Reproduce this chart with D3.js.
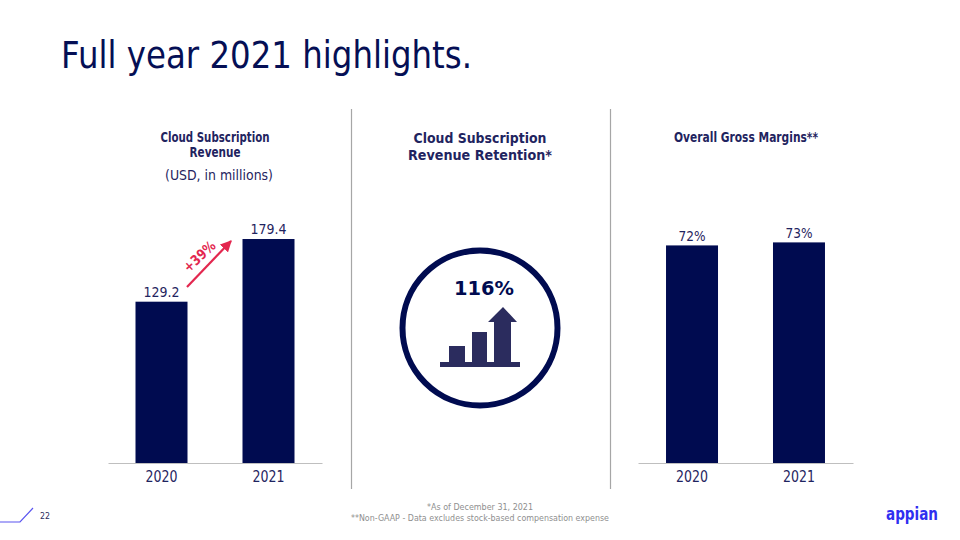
<!DOCTYPE html>
<html><head><meta charset="utf-8">
<script src="https://cdn.jsdelivr.net/npm/d3@7"></script>
<style>html,body{margin:0;background:#fff}svg{display:block}text{font-family:"DejaVu Sans",sans-serif}</style>
</head><body><svg id="c" width="960" height="540"></svg>
<script>
const years = ["2020","2021"];
const revenue = [129.2,179.4];
const revenueLabels = ["129.2","179.4"];
const margins = [72,73];
const marginLabels = ["72%","73%"];
const navy = "#000b50", ink="#1f2460";
const svg = d3.select("#c");
function t(x,y,s,size,opt={}){
  const e = svg.append("text").attr("x",x).attr("y",y).text(s).attr("font-size",size)
    .attr("fill",opt.fill||ink).attr("text-anchor",opt.anchor||"middle").attr("font-weight",opt.weight||"normal");
  if(opt.len) e.attr("textLength",opt.len).attr("lengthAdjust","spacingAndGlyphs");
  return e;
}
t(61,68,"Full year 2021 highlights.",37,{anchor:"start",fill:"#050f55",len:411});
// dividers
[351.5,610.5].forEach(x=>svg.append("line").attr("x1",x).attr("x2",x).attr("y1",109).attr("y2",489).attr("stroke","#a6a6a6").attr("stroke-width",1.2));
// panels
function panel(x0,x1,vals,labels,k,labelDy,outer){
  const x = d3.scaleBand().domain(years).range([x0,x1]).paddingInner(0.514).paddingOuter(outer);
  const h = d3.max(vals)*k;
  const y = d3.scaleLinear().domain([0,d3.max(vals)]).range([463,463-h]);
  const g = svg.append("g");
  g.selectAll("rect").data(vals).join("rect").attr("x",(d,i)=>x(years[i])).attr("width",x.bandwidth())
    .attr("y",d=>y(d)).attr("height",d=>463-y(d)).attr("fill",navy);
  const axis = d3.axisBottom(x).tickSize(0).tickPadding(8);
  const a = svg.append("g").attr("transform","translate(0,463)").call(axis);
  a.select(".domain").attr("stroke","#bfbfbf").attr("stroke-width",1.2);
  a.selectAll("text").attr("font-size",15).attr("fill",ink).style("font-family",'"DejaVu Sans",sans-serif')
    .attr("textLength",32).attr("lengthAdjust","spacingAndGlyphs");
  g.selectAll("text").data(vals).join("text").attr("x",(d,i)=>x(years[i])+x.bandwidth()/2)
    .attr("y",(d,i)=>y(d)-labelDy).attr("text-anchor","middle").attr("font-size",14.5).attr("fill",ink)
    .attr("textLength",(d,i)=>labels[i].length>3?36:27).attr("lengthAdjust","spacingAndGlyphs")
    .text((d,i)=>labels[i]);
}
panel(108,322,revenue,revenueLabels,1.2485,5,0.257);
panel(638,853,margins,marginLabels,3.022,4.5,0.262);
// headers
t(215,142,"Cloud Subscription",14,{weight:"bold",len:109});
t(215,157,"Revenue",14,{weight:"bold",len:51});
t(219,180,"(USD, in millions)",14.5,{len:108});
t(480,143,"Cloud Subscription",14.5,{weight:"bold",len:133});
t(480,160,"Revenue Retention*",14.5,{weight:"bold",len:144});
t(746,142,"Overall Gross Margins**",14,{weight:"bold",len:144});
// arrow
svg.append("defs").append("marker").attr("id","ah").attr("viewBox","0 0 10 10").attr("refX",9).attr("refY",5)
  .attr("markerWidth",5.2).attr("markerHeight",5.2).attr("orient","auto").attr("markerUnits","strokeWidth")
  .append("path").attr("d","M0,0L10,5L0,10Z").attr("fill","#e3274f");
svg.append("line").attr("x1",187).attr("y1",287).attr("x2",231).attr("y2",241).attr("stroke","#e3274f").attr("stroke-width",2.2).attr("marker-end","url(#ah)");
t(200,257,"+39%",14,{weight:"bold",fill:"#e3274f",len:38}).attr("transform","rotate(-43 200 257)").attr("dominant-baseline","middle");
// circle icon
svg.append("circle").attr("cx",480).attr("cy",328).attr("r",77.5).attr("fill","none").attr("stroke",navy).attr("stroke-width",6);
t(484,295,"116%",20,{weight:"bold",fill:navy,len:60});
const ic="#2b2c5e";
svg.append("rect").attr("x",440).attr("y",362).attr("width",80).attr("height",5).attr("fill",ic);
svg.append("rect").attr("x",449).attr("y",346).attr("width",16).attr("height",17).attr("fill",ic);
svg.append("rect").attr("x",472).attr("y",332).attr("width",15).attr("height",31).attr("fill",ic);
svg.append("path").attr("d","M494,363V322H488L503,307L517,322H511V363Z").attr("fill",ic);
// footer
t(480,510,"*As of December 31, 2021",8.5,{fill:"#8f8f8f",len:106});
t(480,521,"**Non-GAAP - Data excludes stock-based compensation expense",8.5,{fill:"#8f8f8f",len:258});
t(45,519,"22",8.5,{fill:"#2b2c5e",len:10});
svg.append("path").attr("d","M0,522H20L33,508").attr("fill","none").attr("stroke","#5a55f0").attr("stroke-width",1.2);
t(912,520,"appian",18.5,{weight:"bold",fill:"#2f2ff0",len:52});
</script></body></html>
